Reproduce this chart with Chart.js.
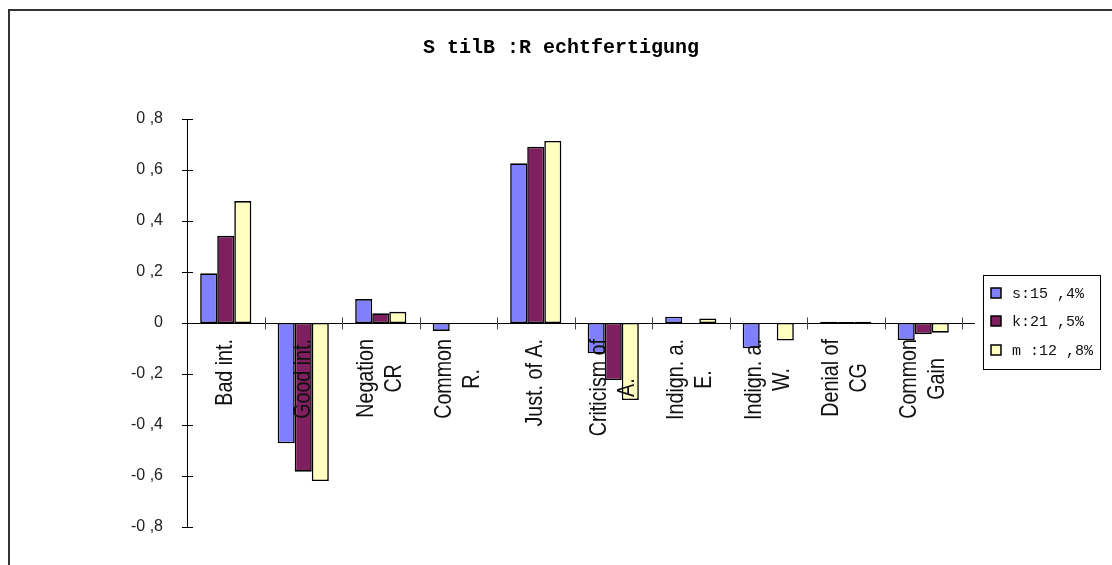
<!DOCTYPE html>
<html>
<head>
<meta charset="utf-8">
<script src="https://cdn.jsdelivr.net/npm/chart.js@4.4.1/dist/chart.umd.min.js"></script>
<style>
  html, body { margin: 0; padding: 0; background: #ffffff; }
  #wrap { width: 1112px; height: 565px; }
</style>
</head>
<body>
<div id="wrap"><canvas id="chart" width="1112" height="565"></canvas></div>
<script>
// Data
const categories = [
    ['Bad int.'],
    ['Good int.'],
    ['Negation', 'CR'],
    ['Common', 'R.'],
    ['Just. of A.'],
    ['Criticism of', 'A.'],
    ['Indign. a.', 'E.'],
    ['Indign. a.', 'W.'],
    ['Denial of', 'CG'],
    ['Common', 'Gain']
];
const seriesS = [0.195, -0.472, 0.094, -0.031, 0.626, -0.119, 0.025, -0.099, 0.005, -0.067];
const seriesK = [0.342, -0.583, 0.038, 0, 0.691, -0.224, 0, 0, 0.004, -0.044];
const seriesM = [0.478, -0.620, 0.044, 0, 0.714, -0.302, 0.018, -0.069, 0.005, -0.038];
const seriesLabels = ['s:15 ,4%', 'k:21 ,5%', 'm :12 ,8%'];
const yTickValues = [-0.8, -0.6, -0.4, -0.2, 0, 0.2, 0.4, 0.6, 0.8];
const yTickLabels = ['-0 ,8', '-0 ,6', '-0 ,4', '-0 ,2', '0', '0 ,2', '0 ,4', '0 ,6', '0 ,8'];
const titleText = 'S tilB :R echtfertigung';

const COLORS = {
    s: '#8080ff',
    k: '#7f1f5f',
    m: '#ffffc0',
    border: '#000000',
    text: '#111111'
};

/**
 * Draws frame, title, axis line with crossing ticks, category labels and legend
 */
const decorPlugin = {
    id: 'decor',
    beforeDraw(chart) {
        const ctx = chart.ctx;
        ctx.save();
        ctx.fillStyle = '#ffffff';
        ctx.fillRect(0, 0, chart.width, chart.height);
        // outer frame (only top and left visible)
        ctx.strokeStyle = '#333333';
        ctx.lineWidth = 2;
        ctx.beginPath();
        ctx.moveTo(9, chart.height);
        ctx.lineTo(9, 10);
        ctx.lineTo(chart.width, 10);
        ctx.stroke();
        // title
        ctx.fillStyle = '#000000';
        ctx.font = 'bold 20px "Liberation Mono", monospace';
        ctx.textAlign = 'center';
        ctx.textBaseline = 'middle';
        ctx.fillText(titleText, 561, 48);
        ctx.restore();
    },
    afterDatasetsDraw(chart) {
        const ctx = chart.ctx;
        const x = chart.scales.x;
        const y = chart.scales.y;
        const area = chart.chartArea;
        const y0 = Math.round(y.getPixelForValue(0)) + 0.5;
        ctx.save();

        // y ticks crossing the axis
        ctx.strokeStyle = '#000000';
        ctx.lineWidth = 1;
        yTickValues.forEach(v => {
            const py = Math.round(y.getPixelForValue(v)) + 0.5;
            ctx.beginPath();
            ctx.moveTo(area.left - 5, py);
            ctx.lineTo(area.left + 6, py);
            ctx.stroke();
        });

        // zero line
        ctx.beginPath();
        ctx.moveTo(area.left, y0);
        ctx.lineTo(area.right + 13, y0);
        ctx.stroke();

        // category boundary ticks
        ctx.strokeStyle = '#444444';
        const step = (area.right - area.left) / categories.length;
        for (let k = 1; k <= categories.length; k++) {
            const px = Math.round(area.left + k * step) + 0.5;
            ctx.beginPath();
            ctx.moveTo(px, y0 - 6);
            ctx.lineTo(px, y0 + 6);
            ctx.stroke();
        }

        // rotated category labels
        ctx.fillStyle = COLORS.text;
        ctx.font = '24px "Liberation Sans", Arial, sans-serif';
        ctx.textAlign = 'center';
        ctx.textBaseline = 'middle';
        const lineGap = 28;
        const squeeze = 0.82;
        categories.forEach((lines, i) => {
            const cx = x.getPixelForValue(i);
            const maxW = Math.max(...lines.map(l => ctx.measureText(l).width));
            lines.forEach((line, j) => {
                const off = (j - (lines.length - 1) / 2) * lineGap;
                ctx.save();
                ctx.translate(cx + off, 339);
                ctx.rotate(-Math.PI / 2);
                ctx.scale(squeeze, 1);
                ctx.fillText(line, -maxW / 2, 0);
                ctx.restore();
            });
        });

        // legend
        ctx.strokeStyle = '#000000';
        ctx.lineWidth = 1;
        ctx.strokeRect(983.5, 275.5, 117, 94);
        ctx.font = '15px "Liberation Mono", monospace';
        ctx.textAlign = 'left';
        ctx.textBaseline = 'middle';
        const rowsY = [293, 321, 350];
        chart.data.datasets.forEach((ds, i) => {
            const ry = rowsY[i];
            ctx.fillStyle = ds.backgroundColor;
            ctx.fillRect(991, ry - 5, 10, 10);
            ctx.lineWidth = 1.5;
            ctx.strokeRect(991, ry - 5, 10, 10);
            ctx.fillStyle = COLORS.text;
            ctx.fillText(ds.label, 1012, ry + 1);
        });

        ctx.restore();
    }
};

function makeDataset(label, data, color) {
    return {
        label,
        data,
        backgroundColor: color,
        borderColor: COLORS.border,
        borderWidth: 1.6,
        borderSkipped: false,
        categoryPercentage: 0.66,
        barPercentage: 1.0
    };
}

new Chart(document.getElementById('chart').getContext('2d'), {
    type: 'bar',
    data: {
        labels: categories,
        datasets: [
            makeDataset(seriesLabels[0], seriesS, COLORS.s),
            makeDataset(seriesLabels[1], seriesK, COLORS.k),
            makeDataset(seriesLabels[2], seriesM, COLORS.m)
        ]
    },
    options: {
        responsive: false,
        animation: false,
        layout: {
            padding: { left: 127, top: 119, right: 150, bottom: 38 }
        },
        plugins: {
            legend: { display: false },
            title: { display: false },
            tooltip: { enabled: false }
        },
        scales: {
            x: {
                display: false,
                offset: true
            },
            y: {
                min: -0.8,
                max: 0.8,
                afterFit: (scale) => { scale.width = 60; },
                afterBuildTicks: (scale) => {
                    scale.ticks = yTickValues.map(v => ({ value: v }));
                },
                grid: { display: false },
                border: { display: true, color: '#000000', width: 1 },
                ticks: {
                    padding: 16,
                    color: '#222222',
                    font: { family: '"Liberation Sans", Arial, sans-serif', size: 16 },
                    callback: (value) => {
                        const idx = yTickValues.findIndex(v => Math.abs(v - value) < 1e-6);
                        return idx >= 0 ? yTickLabels[idx] : '';
                    }
                }
            }
        }
    },
    plugins: [decorPlugin]
});
</script>
</body>
</html>
